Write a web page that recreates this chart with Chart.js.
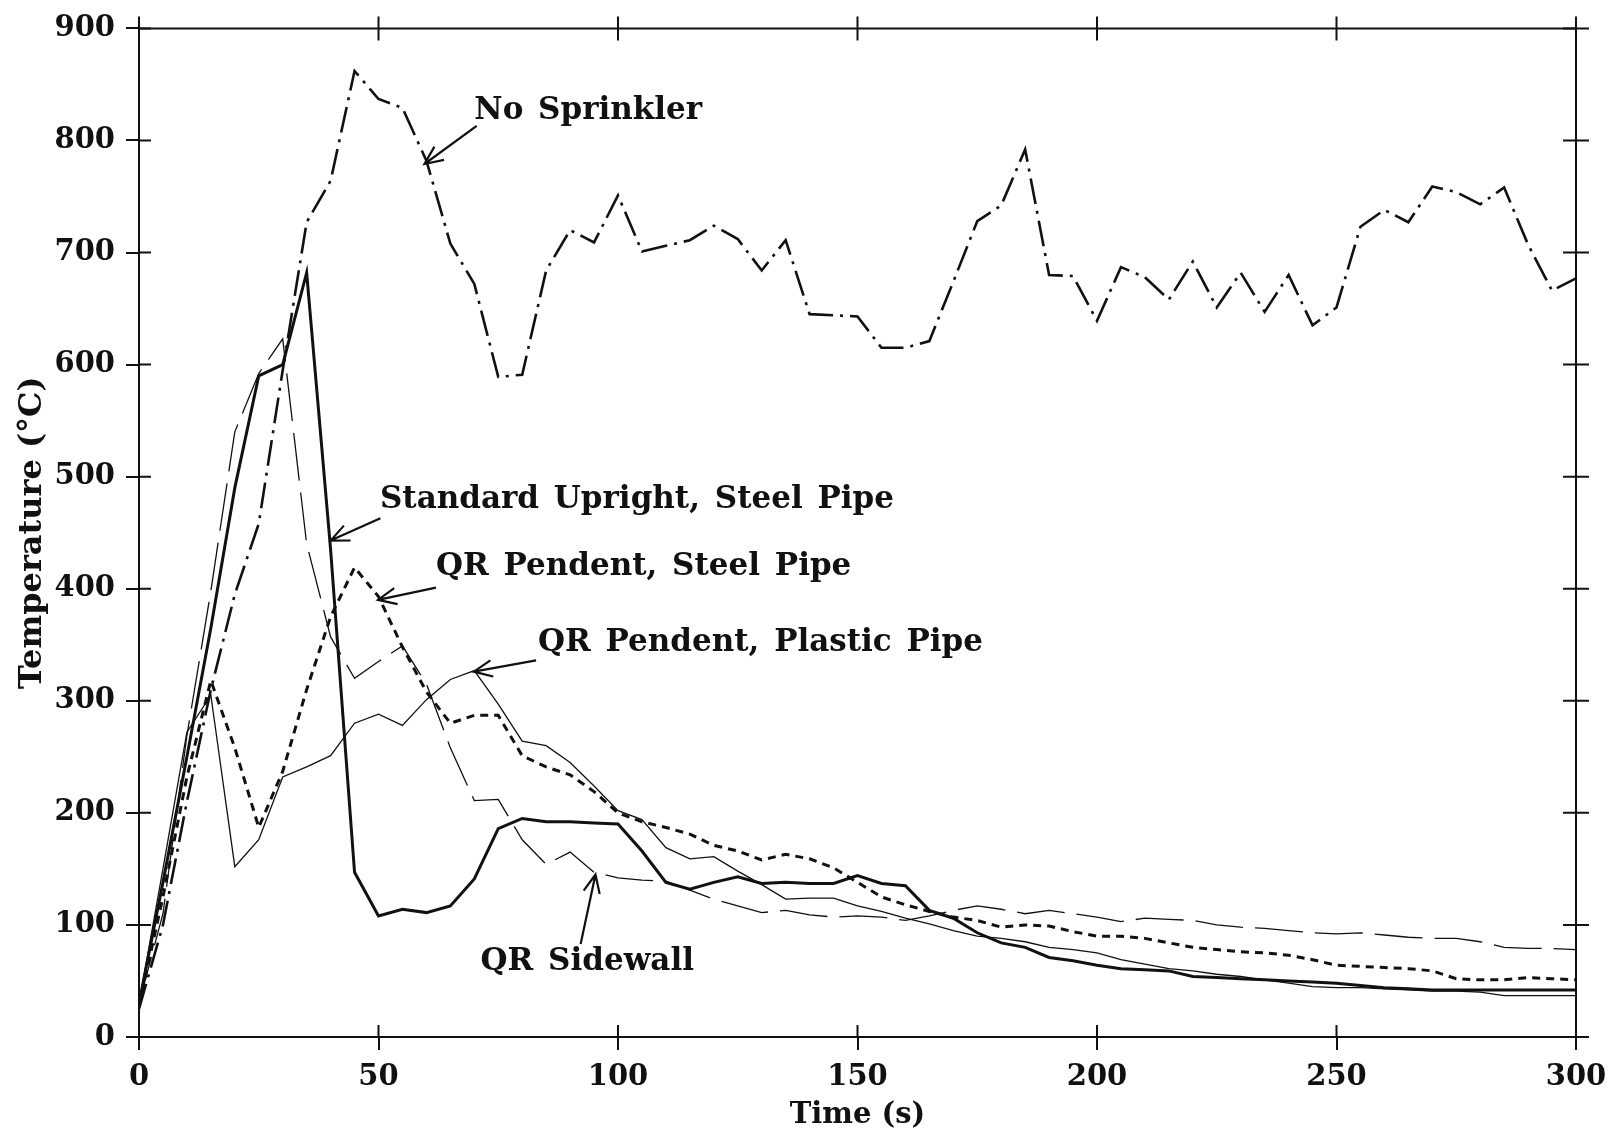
<!DOCTYPE html>
<html>
<head>
<meta charset="utf-8">
<title>Temperature vs time</title>
<script src="https://cdn.jsdelivr.net/npm/chart.js@4.4.1/dist/chart.umd.min.js"></script>
<style>
  html, body { margin: 0; padding: 0; background: #fff; }
  #chart { display: block; }
</style>
</head>
<body>
<canvas id="chart" width="1618" height="1135"></canvas>
<script>
// sample times (s)
const times = [
  0, 5, 10, 15, 20, 25, 30, 35, 40, 45, 50, 55, 60, 65, 70, 75, 80, 85, 90, 95,
  100, 105, 110, 115, 120, 125, 130, 135, 140, 145, 150, 155, 160, 165, 170, 175, 180, 185, 190, 195,
  200, 205, 210, 215, 220, 225, 230, 235, 240, 245, 250, 255, 260, 265, 270, 275, 280, 285, 290, 295,
  300
];

// temperatures (°C)
const noSprinkler = [
  25, 100, 210, 310, 395, 458, 595, 727, 764, 862, 837, 829, 782, 708, 672, 589, 591, 684, 720, 709,
  751, 701, 706, 711, 724, 712, 684, 711, 645, 644, 643, 615, 615, 621, 674, 728, 742, 792, 680, 679,
  639, 687, 678, 658, 692, 651, 682, 647, 680, 635, 651, 723, 738, 727, 759, 754, 743, 758, 707, 666,
  677
];
const standardUpright = [
  30, 138, 250, 365, 490, 590, 600, 682, 435, 147, 108, 114, 111, 117, 141, 186, 195, 192, 192, 191,
  190, 166, 138, 132, 138, 143, 137, 138, 137, 137, 144, 137, 135, 113, 106, 93, 84, 80, 71, 68,
  64, 61, 60, 59, 54, 53, 52, 51, 50, 49, 48, 46, 44, 43, 42, 42, 42, 42, 42, 42,
  42
];
const pendentSteel = [
  28, 125, 232, 318, 258, 187, 237, 310, 375, 419, 393, 348, 308, 280, 287, 287, 251, 241, 234, 219,
  200, 192, 187, 181, 171, 166, 158, 163, 159, 151, 138, 125, 118, 112, 107, 104, 98, 100, 99, 94,
  90, 90, 88, 84, 80, 78, 76, 75, 73, 69, 64, 63, 62, 61, 59, 52, 51, 51, 53, 52,
  51
];
const pendentPlastic = [
  30, 150, 272, 305, 152, 176, 232, 241, 251, 280, 288, 278, 301, 319, 327, 297, 264, 260, 245, 224,
  202, 194, 169, 159, 161, 148, 136, 123, 124, 124, 117, 112, 106, 101, 95, 90, 88, 85, 80, 78,
  75, 69, 65, 61, 59, 56, 54, 51, 48, 45, 44, 44, 43, 42, 41, 41, 40, 37, 37, 37,
  37
];
const sidewall = [
  30, 110, 269, 398, 540, 592, 623, 440, 357, 320, 335, 349, 315, 258, 211, 212, 176, 154, 165, 147,
  142, 140, 139, 131, 123, 117, 111, 113, 109, 107, 108, 107, 104, 108, 113, 117, 114, 110, 113, 110,
  107, 103, 106, 105, 104, 100, 98, 97, 95, 93, 92, 93, 91, 89, 88, 88, 85, 80, 79, 79,
  78
];

const INK = '#111';
const serif = "'DejaVu Serif', serif";

// curve labels with their arrows, in data units
const notes = [
  { text: 'No Sprinkler',                 at: [70.0, 826], from: [70.5, 813], to: [59.6, 779] },
  { text: 'Standard Upright, Steel Pipe', at: [50.3, 479], from: [50.4, 463], to: [40.0, 443] },
  { text: 'QR Pendent, Steel Pipe',       at: [62.0, 419], from: [62.0, 401], to: [49.9, 390] },
  { text: 'QR Pendent, Plastic Pipe',     at: [83.3, 352], from: [82.9, 336], to: [69.9, 326] },
  { text: 'QR Sidewall',                  at: [71.3, 67],  from: [92.2, 83],  to: [95.3, 145] }
];

function series(values) {
  return times.map((t, i) => ({ x: t, y: values[i] }));
}

function arrow(ctx, x0, y0, x1, y1) {
  const ang = Math.atan2(y1 - y0, x1 - x0);
  const len = 20, spread = 0.42;
  ctx.beginPath();
  ctx.moveTo(x0, y0);
  ctx.lineTo(x1, y1);
  ctx.moveTo(x1 - len * Math.cos(ang - spread), y1 - len * Math.sin(ang - spread));
  ctx.lineTo(x1, y1);
  ctx.lineTo(x1 - len * Math.cos(ang + spread), y1 - len * Math.sin(ang + spread));
  ctx.stroke();
}

// closes the box, draws the ticks that cross the frame and the curve labels
const frameAndNotes = {
  id: 'frameAndNotes',
  afterDatasetsDraw(chart) {
    const { ctx, chartArea: a, scales: { x, y } } = chart;
    ctx.save();
    ctx.strokeStyle = INK;
    ctx.lineWidth = 2;
    ctx.beginPath();
    ctx.moveTo(a.left, a.top);
    ctx.lineTo(a.right, a.top);
    ctx.lineTo(a.right, a.bottom);
    ctx.stroke();

    ctx.beginPath();
    x.ticks.forEach(t => {
      const px = x.getPixelForValue(t.value);
      ctx.moveTo(px, a.bottom);
      ctx.lineTo(px, a.bottom - 12);
      ctx.moveTo(px, a.top - 12);
      ctx.lineTo(px, a.top + 12);
    });
    y.ticks.forEach(t => {
      const py = y.getPixelForValue(t.value);
      ctx.moveTo(a.left, py);
      ctx.lineTo(a.left + 12, py);
      ctx.moveTo(a.right - 13, py);
      ctx.lineTo(a.right + 13, py);
    });
    ctx.stroke();

    ctx.fillStyle = INK;
    ctx.font = 'bold 31px ' + serif;
    ctx.textBaseline = 'middle';
    ctx.textAlign = 'left';
    ctx.wordSpacing = '4px';
    ctx.lineWidth = 2.2;
    notes.forEach(n => {
      ctx.fillText(n.text, x.getPixelForValue(n.at[0]), y.getPixelForValue(n.at[1]));
      arrow(ctx,
        x.getPixelForValue(n.from[0]), y.getPixelForValue(n.from[1]),
        x.getPixelForValue(n.to[0]), y.getPixelForValue(n.to[1]));
    });
    ctx.restore();
  }
};

const tickFont = { family: serif, size: 29, weight: 'bold' };
const xTitleFont = { family: serif, size: 29, weight: 'bold' };
const yTitleFont = { family: serif, size: 32, weight: 'bold' };

new Chart(document.getElementById('chart').getContext('2d'), {
  type: 'line',
  data: {
    datasets: [
      { label: 'No Sprinkler', data: series(noSprinkler),
        borderColor: INK, borderWidth: 2.6, borderDash: [26, 7, 3, 7] },
      { label: 'Standard Upright, Steel Pipe', data: series(standardUpright),
        borderColor: INK, borderWidth: 3 },
      { label: 'QR Pendent, Steel Pipe', data: series(pendentSteel),
        borderColor: INK, borderWidth: 3, borderDash: [8, 6] },
      { label: 'QR Pendent, Plastic Pipe', data: series(pendentPlastic),
        borderColor: INK, borderWidth: 1.3 },
      { label: 'QR Sidewall', data: series(sidewall),
        borderColor: INK, borderWidth: 1.3, borderDash: [48, 12] }
    ]
  },
  options: {
    responsive: false,
    animation: false,
    events: [],
    layout: { padding: { top: 22, right: 42, bottom: 0, left: 0 } },
    plugins: { legend: { display: false }, tooltip: { enabled: false } },
    elements: { point: { radius: 0 }, line: { tension: 0, fill: false } },
    scales: {
      x: {
        type: 'linear', min: 0, max: 300,
        ticks: { stepSize: 50, color: INK, font: tickFont, padding: 10, maxRotation: 0 },
        grid: { drawOnChartArea: false, color: INK, lineWidth: 2, tickLength: 13 },
        border: { color: INK, width: 2 },
        title: { display: true, text: 'Time (s)', color: INK, font: xTitleFont, padding: { top: 0, bottom: 2 } },
        afterFit(scale) { scale.height = 98; }
      },
      y: {
        min: 0, max: 900,
        ticks: { stepSize: 100, color: INK, font: tickFont, padding: 11 },
        grid: { drawOnChartArea: false, color: INK, lineWidth: 2, tickLength: 13 },
        border: { color: INK, width: 2 },
        title: { display: true, text: 'Temperature (°C)', color: INK, font: yTitleFont, padding: { top: 13, bottom: 0 } },
        afterFit(scale) { scale.width = 139; }
      }
    }
  },
  plugins: [frameAndNotes]
});
</script>
</body>
</html>
